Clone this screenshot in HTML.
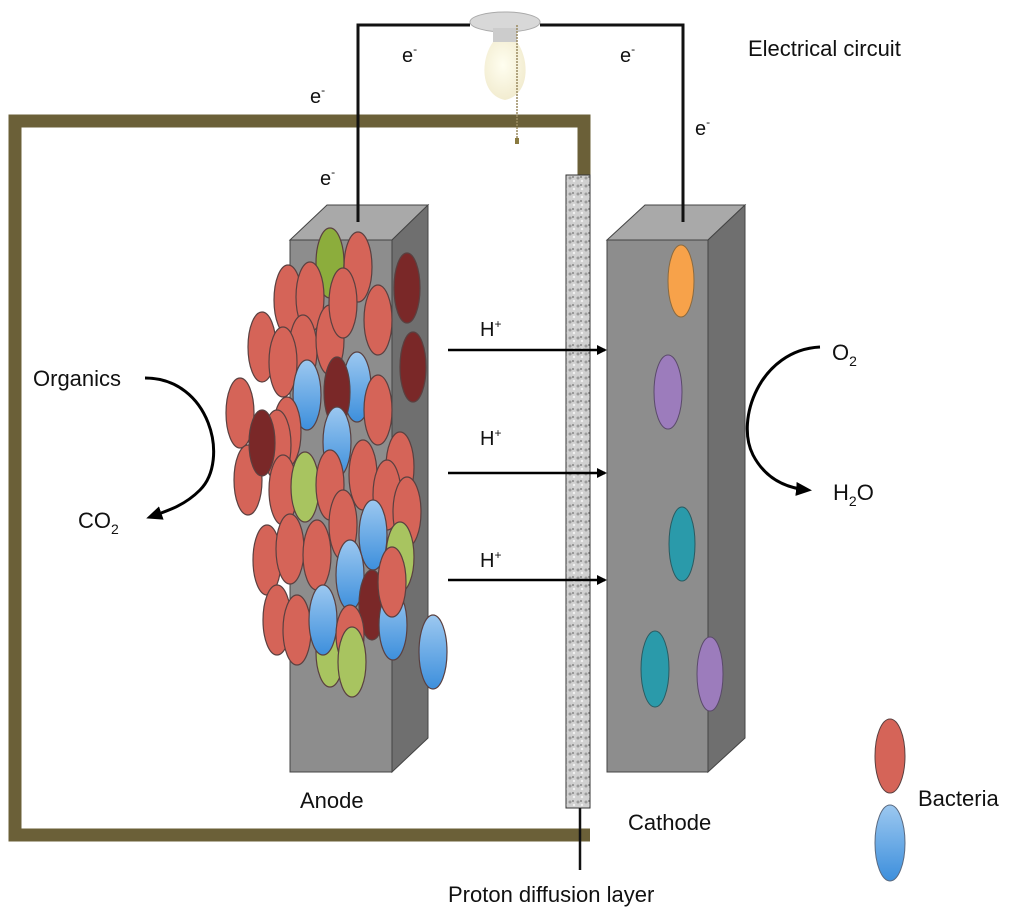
<!DOCTYPE html>
<html><head><meta charset="utf-8"><style>
html,body{margin:0;padding:0;background:#fff;}
svg{display:block;}
text{font-family:"Liberation Sans",sans-serif;fill:#111;}
</style></head><body>
<svg width="1024" height="919" viewBox="0 0 1024 919" xmlns="http://www.w3.org/2000/svg">
<defs>
<marker id="ah" markerWidth="10" markerHeight="10" refX="8" refY="5" orient="auto" markerUnits="userSpaceOnUse"><path d="M0,0 L10,5 L0,10 z" fill="#000"/></marker>
<marker id="ah2" markerWidth="16" markerHeight="14" refX="12" refY="7" orient="auto" markerUnits="userSpaceOnUse"><path d="M0,0 L16,7 L0,14 z" fill="#000"/></marker>
<radialGradient id="bulb" cx="0.45" cy="0.4" r="0.6"><stop offset="0" stop-color="#fffef0"/><stop offset="1" stop-color="#f2ecd0"/></radialGradient>
<linearGradient id="blue" x1="0" y1="0" x2="0" y2="1"><stop offset="0" stop-color="#9cc8f0"/><stop offset="1" stop-color="#3d8fdc"/></linearGradient>
<pattern id="mem" width="8" height="8" patternUnits="userSpaceOnUse"><rect width="8" height="8" fill="#d0d0d0"/><circle cx="2" cy="2" r="1.5" fill="#9a9a9a"/><circle cx="6" cy="5" r="1.2" fill="#f0f0f0"/><circle cx="5" cy="1" r="1" fill="#888"/></pattern>
</defs>

<!-- brown frame -->
<path d="M590,835 L15,835 L15,121 L584,121 L584,175" fill="none" stroke="#6b6038" stroke-width="13"/>

<!-- wires -->
<path d="M358,222 L358,25 L470,25 M540,25 L683,25 L683,222" fill="none" stroke="#111" stroke-width="3"/>
<!-- bulb -->
<ellipse cx="505" cy="22" rx="35" ry="10" fill="#d8d8d8" stroke="#aaa"/>
<rect x="493" y="28" width="24" height="14" fill="#ccc"/>
<path d="M493,42 C480,60 480,95 505,100 C530,95 530,60 517,42 z" fill="url(#bulb)"/>
<line x1="517" y1="25" x2="517" y2="140" stroke="#9a8a60" stroke-width="1.5" stroke-dasharray="2,1"/>
<rect x="515" y="138" width="4" height="6" fill="#8a7a40"/>

<!-- e- labels -->
<g font-size="20">
<text x="402" y="62">e<tspan font-size="12" dy="-9">-</tspan></text>
<text x="620" y="62">e<tspan font-size="12" dy="-9">-</tspan></text>
<text x="310" y="103">e<tspan font-size="12" dy="-9">-</tspan></text>
<text x="320" y="185">e<tspan font-size="12" dy="-9">-</tspan></text>
<text x="695" y="135">e<tspan font-size="12" dy="-9">-</tspan></text>
</g>
<text x="748" y="56" font-size="22">Electrical circuit</text>

<!-- anode -->
<polygon points="290,240 327,205 428,205 392,240" fill="#a9a9a9" stroke="#444"/>
<polygon points="392,240 428,205 428,738 392,772" fill="#6f6f6f" stroke="#444"/>
<rect x="290" y="240" width="102" height="532" fill="#8d8d8d" stroke="#444"/>
<line x1="358" y1="200" x2="358" y2="222" stroke="#111" stroke-width="3"/>

<!-- cathode -->
<polygon points="607,240 645,205 745,205 708,240" fill="#a9a9a9" stroke="#444"/>
<polygon points="708,240 745,205 745,738 708,772" fill="#6f6f6f" stroke="#444"/>
<rect x="607" y="240" width="101" height="532" fill="#8d8d8d" stroke="#444"/>
<line x1="683" y1="200" x2="683" y2="222" stroke="#111" stroke-width="3"/>
<ellipse cx="681" cy="281" rx="13" ry="36" fill="#f7a24a" stroke="#8a6a40"/>
<ellipse cx="668" cy="392" rx="14" ry="37" fill="#9c7cbc" stroke="#5a4a6a"/>
<ellipse cx="682" cy="544" rx="13" ry="37" fill="#2a9aaa" stroke="#2a5a60"/>
<ellipse cx="655" cy="669" rx="14" ry="38" fill="#2a9aaa" stroke="#2a5a60"/>
<ellipse cx="710" cy="674" rx="13" ry="37" fill="#9c7cbc" stroke="#5a4a6a"/>

<!-- membrane -->
<rect x="566" y="175" width="24" height="633" fill="url(#mem)" stroke="#333"/>
<line x1="580" y1="808" x2="580" y2="870" stroke="#111" stroke-width="2.5"/>

<!-- bacteria on anode -->
<g stroke="#5a4040" stroke-width="1.2">
<ellipse cx="330" cy="263" rx="14" ry="35" fill="#8cad3c"/>
<ellipse cx="358" cy="267" rx="14" ry="35" fill="#d56458"/>
<ellipse cx="407" cy="288" rx="13" ry="35" fill="#7a2828"/>
<ellipse cx="413" cy="367" rx="13" ry="35" fill="#7a2828"/>
<ellipse cx="288" cy="300" rx="14" ry="35" fill="#d56458"/>
<ellipse cx="310" cy="297" rx="14" ry="35" fill="#d56458"/>
<ellipse cx="303" cy="350" rx="14" ry="35" fill="#d56458"/>
<ellipse cx="330" cy="340" rx="14" ry="35" fill="#d56458"/>
<ellipse cx="343" cy="303" rx="14" ry="35" fill="#d56458"/>
<ellipse cx="378" cy="320" rx="14" ry="35" fill="#d56458"/>
<ellipse cx="262" cy="347" rx="14" ry="35" fill="#d56458"/>
<ellipse cx="283" cy="362" rx="14" ry="35" fill="#d56458"/>
<ellipse cx="307" cy="395" rx="14" ry="35" fill="url(#blue)"/>
<ellipse cx="357" cy="387" rx="14" ry="35" fill="url(#blue)"/>
<ellipse cx="337" cy="392" rx="13" ry="35" fill="#7a2828"/>
<ellipse cx="378" cy="410" rx="14" ry="35" fill="#d56458"/>
<ellipse cx="240" cy="413" rx="14" ry="35" fill="#d56458"/>
<ellipse cx="287" cy="432" rx="14" ry="35" fill="#d56458"/>
<ellipse cx="248" cy="480" rx="14" ry="35" fill="#d56458"/>
<ellipse cx="277" cy="445" rx="14" ry="35" fill="#d56458"/>
<ellipse cx="262" cy="443" rx="13" ry="33" fill="#7a2828"/>
<ellipse cx="337" cy="442" rx="14" ry="35" fill="url(#blue)"/>
<ellipse cx="283" cy="490" rx="14" ry="35" fill="#d56458"/>
<ellipse cx="305" cy="487" rx="14" ry="35" fill="#a8c460"/>
<ellipse cx="330" cy="485" rx="14" ry="35" fill="#d56458"/>
<ellipse cx="400" cy="467" rx="14" ry="35" fill="#d56458"/>
<ellipse cx="363" cy="475" rx="14" ry="35" fill="#d56458"/>
<ellipse cx="387" cy="495" rx="14" ry="35" fill="#d56458"/>
<ellipse cx="373" cy="535" rx="14" ry="35" fill="url(#blue)"/>
<ellipse cx="407" cy="512" rx="14" ry="35" fill="#d56458"/>
<ellipse cx="400" cy="557" rx="14" ry="35" fill="#a8c460"/>
<ellipse cx="343" cy="525" rx="14" ry="35" fill="#d56458"/>
<ellipse cx="267" cy="560" rx="14" ry="35" fill="#d56458"/>
<ellipse cx="290" cy="549" rx="14" ry="35" fill="#d56458"/>
<ellipse cx="317" cy="555" rx="14" ry="35" fill="#d56458"/>
<ellipse cx="350" cy="575" rx="14" ry="35" fill="url(#blue)"/>
<ellipse cx="372" cy="605" rx="13" ry="35" fill="#7a2828"/>
<ellipse cx="393" cy="625" rx="14" ry="35" fill="url(#blue)"/>
<ellipse cx="392" cy="582" rx="14" ry="35" fill="#d56458"/>
<ellipse cx="330" cy="652" rx="14" ry="35" fill="#a8c460"/>
<ellipse cx="277" cy="620" rx="14" ry="35" fill="#d56458"/>
<ellipse cx="297" cy="630" rx="14" ry="35" fill="#d56458"/>
<ellipse cx="323" cy="620" rx="14" ry="35" fill="url(#blue)"/>
<ellipse cx="350" cy="635" rx="14" ry="30" fill="#d56458"/>
<ellipse cx="352" cy="662" rx="14" ry="35" fill="#a8c460"/>
<ellipse cx="433" cy="652" rx="14" ry="37" fill="url(#blue)"/>
</g>

<!-- H+ arrows -->
<g stroke="#000" stroke-width="2.5">
<line x1="448" y1="350" x2="605" y2="350" marker-end="url(#ah)"/>
<line x1="448" y1="473" x2="605" y2="473" marker-end="url(#ah)"/>
<line x1="448" y1="580" x2="605" y2="580" marker-end="url(#ah)"/>
</g>
<g font-size="20">
<text x="480" y="336">H<tspan font-size="12" dy="-8">+</tspan></text>
<text x="480" y="445">H<tspan font-size="12" dy="-8">+</tspan></text>
<text x="480" y="567">H<tspan font-size="12" dy="-8">+</tspan></text>
</g>

<!-- organics -->
<path d="M145,378 C210,378 230,460 200,490 C185,505 170,510 150,517" fill="none" stroke="#000" stroke-width="3" marker-end="url(#ah2)"/>
<text x="33" y="386" font-size="22">Organics</text>
<text x="78" y="528" font-size="22">CO<tspan font-size="14" dy="6">2</tspan></text>
<!-- O2 -->
<path d="M820,347 C760,350 735,420 753,455 C765,478 785,488 808,490" fill="none" stroke="#000" stroke-width="3" marker-end="url(#ah2)"/>
<text x="832" y="360" font-size="22">O<tspan font-size="14" dy="6">2</tspan></text>
<text x="833" y="500" font-size="22">H<tspan font-size="14" dy="6">2</tspan><tspan dy="-6">O</tspan></text>

<!-- legend -->
<ellipse cx="890" cy="756" rx="15" ry="37" fill="#d56458" stroke="#5a4040"/>
<ellipse cx="890" cy="843" rx="15" ry="38" fill="url(#blue)" stroke="#5a6a80"/>
<text x="918" y="806" font-size="22">Bacteria</text>

<text x="300" y="808" font-size="22">Anode</text>
<text x="628" y="830" font-size="22">Cathode</text>
<text x="448" y="902" font-size="22">Proton diffusion layer</text>
</svg>
</body></html>
